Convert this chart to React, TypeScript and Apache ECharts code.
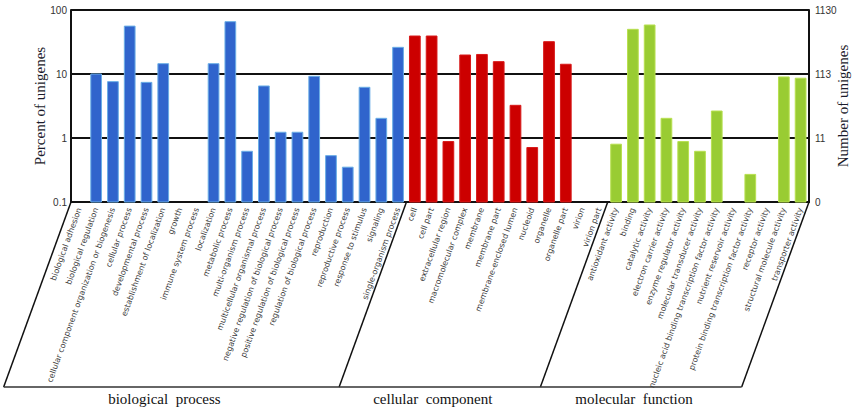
import React, { useEffect, useRef } from "react";
import * as echarts from "echarts";

const bpNames = [
  "biological adhesion", "biological regulation", "cellular component organization or biogenesis",
  "cellular process", "developmental process", "establishment of localization", "growth",
  "immune system process", "localization", "metabolic process", "multi-organism process",
  "multicellular organismal process", "negative regulation of biological process",
  "positive regulation of biological process", "regulation of biological process", "reproduction",
  "reproductive process", "response to stimulus", "signaling", "single-organism process",
];
const bpValues = [0, 10, 7.6, 56, 7.4, 14.5, 0, 0, 14.5, 65.7, 0.62, 6.5, 1.23, 1.23, 9.2, 0.53, 0.35, 6.2, 2.03, 26.1];

const ccNames = [
  "cell", "cell part", "extracellular region", "macromolecular complex", "membrane", "membrane part",
  "membrane-enclosed lumen", "nucleoid", "organelle", "organelle part", "virion", "virion part",
];
const ccValues = [39.2, 39.2, 0.88, 19.8, 20.2, 15.6, 3.24, 0.71, 32, 14.2, 0, 0];

const mfNames = [
  "antioxidant activity", "binding", "catalytic activity", "electron carrier activity",
  "enzyme regulator activity", "molecular transducer activity",
  "nucleic acid binding transcription factor activity", "nutrient reservoir activity",
  "protein binding transcription factor activity", "receptor activity",
  "structural molecule activity", "transporter activity",
];
const mfValues = [0.8, 49.9, 58.3, 2.03, 0.88, 0.62, 2.64, 0, 0.27, 0, 9.0, 8.6];

const groupTitles = ["biological  process", "cellular  component", "molecular  function"];
const leftTickLabels = ["0.1", "1", "10", "100"];
const rightTickLabels = ["0", "11", "113", "1130"];

const groups = [
  { names: bpNames, values: bpValues, fill: "#3064cc", edge: "#6aaee6" },
  { names: ccNames, values: ccValues, fill: "#cc0000", edge: "#d81a1a" },
  { names: mfNames, values: mfValues, fill: "#99cc33", edge: "#b8e050" },
];

export default function App() {
  const ref = useRef<HTMLDivElement>(null);
  useEffect(() => {
    const chart = echarts.init(ref.current!, undefined, { renderer: "svg" });
    const categories: string[] = [];
    const seriesList: any[] = [];
    groups.forEach((g) => {
      const start = categories.length;
      g.names.forEach((n) => categories.push(n));
      seriesList.push({
        type: "custom",
        xAxisIndex: 0,
        yAxisIndex: 0,
        data: g.values.map((v, i) => [start + i, v]),
        renderItem: (params: any, api: any) => {
          const v = api.value(1);
          if (!(v > 0)) return null;
          const top = api.coord([api.value(0), v]);
          const base = api.coord([api.value(0), 0.1]);
          const band = api.size([1, 0])[0];
          const w = band * 0.64;
          return {
            type: "rect",
            shape: { x: top[0] - w / 2, y: top[1], width: w, height: base[1] - top[1] },
            style: { fill: g.fill, stroke: g.edge, lineWidth: 1 },
          };
        },
      });
    });
    const tickIdx = (v: number) => Math.round(Math.log10(v)) + 1;
    chart.setOption({
      animation: false,
      grid: { left: 71, right: 47, top: 10, bottom: 208, containLabel: false, outerBoundsMode: "none" },
      xAxis: {
        type: "category",
        data: categories,
        axisLine: { lineStyle: { color: "#111", width: 2 } },
        axisTick: { show: false },
        axisLabel: {
          interval: 0,
          rotate: 70,
          margin: 6,
          fontSize: 8,
          fontFamily: "DejaVu Sans, Verdana, sans-serif",
          color: "#3a3a3a",
        },
      },
      yAxis: [
        {
          type: "log",
          logBase: 10,
          min: 0.1,
          max: 100,
          position: "left",
          name: "Percent of unigenes",
          nameLocation: "middle",
          nameGap: 24,
          nameMoveOverlap: false,
          nameTextStyle: { fontFamily: "Liberation Serif, Times New Roman, serif", fontSize: 15, color: "#1b1b2b" },
          axisLine: { show: true, lineStyle: { color: "#111", width: 2 } },
          axisTick: { show: false },
          splitLine: { show: true, lineStyle: { color: "#111", width: 2 } },
          axisLabel: {
            margin: 4,
            fontSize: 10,
            fontFamily: "Liberation Sans, Arial, sans-serif",
            color: "#333",
            padding: [0, 0, 6, 0],
            formatter: (v: number) => leftTickLabels[tickIdx(v)] ?? "",
          },
        },
        {
          type: "log",
          logBase: 10,
          min: 0.1,
          max: 100,
          position: "right",
          name: "Number of unigenes",
          nameLocation: "middle",
          nameGap: 26,
          nameMoveOverlap: false,
          nameTextStyle: { fontFamily: "Liberation Serif, Times New Roman, serif", fontSize: 15, color: "#1b1b2b" },
          axisLine: { show: true, lineStyle: { color: "#111", width: 2 } },
          axisTick: { show: false },
          splitLine: { show: false },
          axisLabel: {
            margin: 6,
            fontSize: 10,
            fontFamily: "Liberation Sans, Arial, sans-serif",
            color: "#333",
            padding: [0, 0, 6, 0],
            formatter: (v: number) => rightTickLabels[tickIdx(v)] ?? "",
          },
        },
      ],
      series: seriesList,
    });

    // group boxes (slanted parallelograms under the label area)
    const c0 = chart.convertToPixel({ xAxisIndex: 0 }, 0) as number;
    const c1 = chart.convertToPixel({ xAxisIndex: 0 }, 1) as number;
    const band = c1 - c0;
    const axisY = chart.convertToPixel({ yAxisIndex: 0 }, 0.1) as number;
    const depth = 185;
    const dx = depth / Math.tan((70 * Math.PI) / 180);
    const bottomY = axisY + depth;
    const bounds: number[] = [0];
    groups.forEach((g) => bounds.push(bounds[bounds.length - 1] + g.names.length));
    const bx = bounds.map((b) => c0 - band / 2 + b * band);
    const graphics: any[] = [];
    bx.forEach((x) => {
      graphics.push({
        type: "line",
        shape: { x1: x, y1: axisY, x2: x - dx, y2: bottomY },
        style: { stroke: "#111", lineWidth: 1.5 },
      });
    });
    graphics.push({
      type: "line",
      shape: { x1: bx[0] - dx, y1: bottomY, x2: bx[bx.length - 1] - dx, y2: bottomY },
      style: { stroke: "#333", lineWidth: 1.5 },
    });
    groupTitles.forEach((t, i) => {
      const cx = (bx[i] + bx[i + 1]) / 2 - dx - 7;
      graphics.push({
        type: "text",
        x: cx,
        y: bottomY + 12,
        style: {
          text: t,
          fill: "#111",
          font: "15px 'Liberation Serif', 'Times New Roman', serif",
          align: "center",
          verticalAlign: "middle",
        },
      });
    });
    chart.setOption({ graphic: graphics });
    return () => chart.dispose();
  }, []);
  return (
    <div
      ref={ref}
      style={{ position: "fixed", left: 0, top: 0, width: 856, height: 410, background: "#fff" }}
    />
  );
}
